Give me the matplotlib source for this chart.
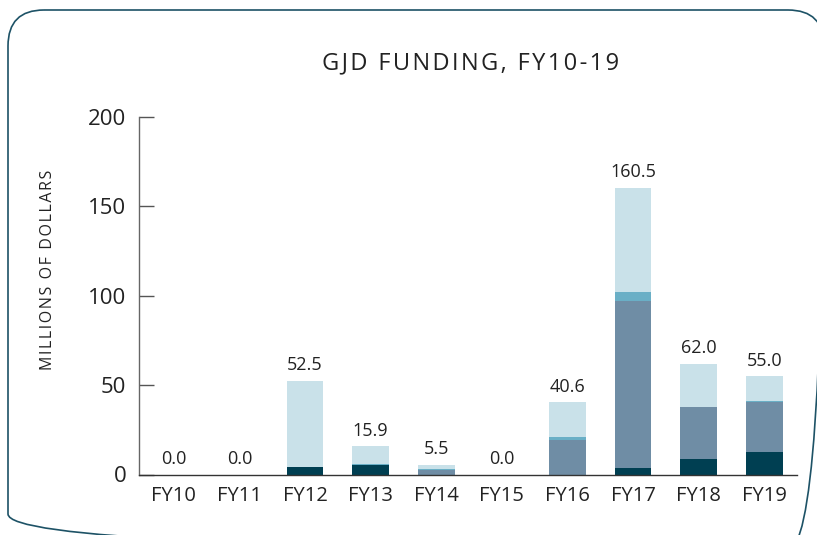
import matplotlib
matplotlib.use("Agg")
import matplotlib.pyplot as plt
from matplotlib.patches import FancyBboxPatch
import numpy as np

years = ["FY10", "FY11", "FY12", "FY13", "FY14", "FY15", "FY16", "FY17", "FY18", "FY19"]
series_dark = [0, 0, 4.0, 5.5, 0, 0, 0, 3.9, 8.4, 12.5]
series_slate = [0, 0, 0, 0, 2.6, 0, 19.5, 93.0, 29.1, 27.8]
series_blue = [0, 0, 0, 0.3, 0.6, 0, 1.3, 5.0, 0, 0.6]
series_light = [0, 0, 48.5, 10.1, 2.3, 0, 19.8, 58.6, 24.5, 14.1]
totals = [0.0, 0.0, 52.5, 15.9, 5.5, 0.0, 40.6, 160.5, 62.0, 55.0]
yticks = [0, 50, 100, 150, 200]

colors = ["#003f52", "#6f8da5", "#6aafc6", "#c9e1e9"]

plt.rcParams['font.family'] = ['Open Sans', 'DejaVu Sans']
txt = "#222222"

W, H = 817, 535
fig = plt.figure(figsize=(W / 100, H / 100), dpi=100)

# rounded border overlay in pixel units (extends past right and bottom edges)
bg = fig.add_axes([0, 0, 1, 1])
bg.set_xlim(0, W)
bg.set_ylim(H, 0)
bg.axis("off")
bg.add_patch(FancyBboxPatch((8, 10), 816, 540, boxstyle="round,pad=0,rounding_size=36",
                            fill=False, edgecolor="#1d5266", linewidth=1.2, clip_on=False))

ax = fig.add_axes([139/W, 60.5/H, 658/W, 357.6/H])

x = np.arange(len(years))
w = 0.56
bottom = np.zeros(len(years))
for vals, c in zip([series_dark, series_slate, series_blue, series_light], colors):
    v = np.array(vals, dtype=float)
    ax.bar(x, v, w, bottom=bottom, color=c, linewidth=0, zorder=2)
    bottom += v

for xi, t in zip(x, totals):
    ax.text(xi, t + 3.5, f"{t:.1f}", ha="center", va="bottom", fontsize=13, color=txt)

ax.set_xlim(-0.532, 9.498)
ax.set_ylim(0, 200)
ax.set_xticks(x)
ax.set_xticklabels(years)
ax.set_yticks(yticks)
ax.tick_params(axis="y", direction="in", length=11, width=1, color="#555555",
               labelsize=16, labelcolor=txt, pad=9)
ax.tick_params(axis="x", length=0, labelsize=14.5, labelcolor=txt, pad=8)
for s in ["top", "right"]:
    ax.spines[s].set_visible(False)
ax.spines["left"].set_color("#666666")
ax.spines["left"].set_linewidth(1.0)
ax.spines["bottom"].set_color("#333333")
ax.spines["bottom"].set_linewidth(1.0)

ylab = "\u200a".join("MILLIONS OF DOLLARS")
ax.set_ylabel(ylab, fontsize=11.5, color=txt, labelpad=0)
ax.yaxis.set_label_coords(-83/658, (475 - 270) / 357.6)

fig.text(471/W, 1 - 63/H, "\u200a".join("GJD FUNDING, FY10-19"), ha="center", va="center",
         fontsize=17, color=txt)

fig.savefig("out.png", dpi=100)
